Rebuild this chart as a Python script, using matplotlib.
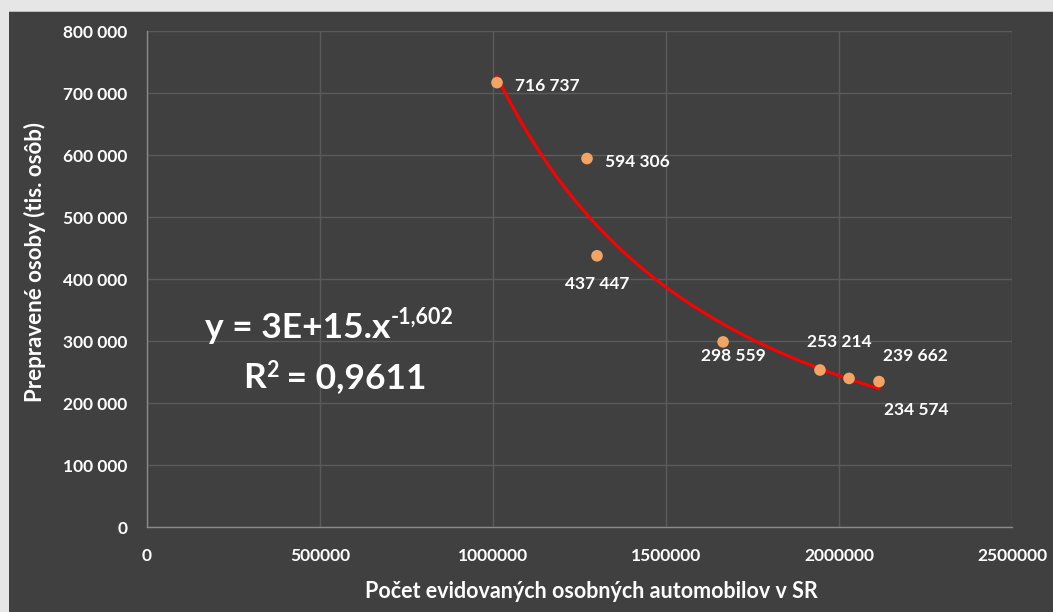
import numpy as np
import matplotlib
matplotlib.use("Agg")
import matplotlib.pyplot as plt
from matplotlib.patches import Rectangle
from matplotlib.ticker import FuncFormatter

# ---- data ----
cars = [1011600, 1271700, 1300600, 1665000, 1945000, 2029000, 2115600]
passengers = [716737, 594306, 437447, 298559, 253214, 239662, 234574]
labels = ["716 737", "594 306", "437 447", "298 559", "253 214", "239 662", "234 574"]
x_ticks = [0, 500000, 1000000, 1500000, 2000000, 2500000]
y_ticks = [0, 100000, 200000, 300000, 400000, 500000, 600000, 700000, 800000]
eq_main, eq_sup = "y = 3E+15.x", "-1,602"
r2_main, r2_sup, r2_rest = "R", "2", " = 0,9611"
xlabel = "Počet evidovaných osobných automobilov v SR"
ylabel = "Prepravené osoby (tis. osôb)"

plt.rcParams['font.family'] = ['Lato', 'DejaVu Sans']
W, H = 1053, 612
fig = plt.figure(figsize=(W / 100, H / 100), dpi=100, facecolor="#e6e6e6")
fig.patches.append(Rectangle((9 / W, 0), 1 - 9 / W, (H - 11) / H, transform=fig.transFigure,
                             facecolor="#404040", edgecolor="none", zorder=-10))
fig.patches.append(Rectangle((9 / W, (H - 12) / H), 1 - 9 / W, 1.2 / H, transform=fig.transFigure,
                             facecolor="#bdbdbd", edgecolor="none", zorder=-10))

ax = fig.add_axes([147 / W, 85 / H, (1012 - 147) / W, (527 - 31) / H])
ax.set_facecolor("#404040")
ax.set_xlim(0, 2500000)
ax.set_ylim(0, 800000)
ax.set_xticks(x_ticks)
ax.set_yticks(y_ticks)
ax.yaxis.set_major_formatter(FuncFormatter(lambda v, p: f"{int(v):,}".replace(",", " ")))
ax.xaxis.set_major_formatter(FuncFormatter(lambda v, p: f"{int(v)}"))
ax.grid(True, color="#5a5a5a", linewidth=1.0)
ax.set_axisbelow(True)
for s in ["top", "right"]:
    ax.spines[s].set_visible(False)
for s in ["left", "bottom"]:
    ax.spines[s].set_color("#8a8a8a")
    ax.spines[s].set_linewidth(1.0)
ax.tick_params(length=0, colors="white", labelsize=12.5)
ax.tick_params(axis="y", pad=14)
ax.tick_params(axis="x", pad=15)
for t in ax.get_xticklabels() + ax.get_yticklabels():
    t.set_fontweight("bold")

# power trendline (log-log regression, as Excel does)
xs = np.array(cars, dtype=float)
ys = np.array(passengers, dtype=float)
b, loga = np.polyfit(np.log(xs), np.log(ys), 1)
xx = np.linspace(xs.min(), xs.max(), 200)
ax.plot(xx, np.exp(loga) * xx ** b, color="#ff0000", linewidth=2.2, zorder=3)

ax.scatter(cars, passengers, s=70, color="#f2a465", edgecolor="none", zorder=4)

offsets = [(18, -3, "left"), (18, -3, "left"), (0, -28, "center"), (10, -14, "center"),
           (19, 28, "center"), (66, 22, "center"), (37, -28, "center")]
for x, y, lab, (dx, dy, ha) in zip(cars, passengers, labels, offsets):
    ax.annotate(lab, (x, y), xytext=(dx, dy), textcoords="offset pixels", ha=ha, va="center",
                color="white", fontsize=12.5, fontweight="bold", zorder=5)

fig.canvas.draw()
renderer = fig.canvas.get_renderer()

def place_run(x0, yc, parts):
    # parts: list of (text, size, dy_pixels)
    x = x0
    for txt, size, dy in parts:
        t = fig.text(x / W, (H - yc + dy) / H, txt, color="white", fontsize=size,
                     fontweight="bold", ha="left", va="baseline")
        bb = t.get_window_extent(renderer)
        x += bb.width

place_run(205, 338, [(eq_main, 25.5, 0), (eq_sup, 15.5, 14)])
place_run(243, 388, [(r2_main, 25.5, 0), (r2_sup, 15.5, 11), (r2_rest, 25.5, 0)])

fig.text(591 / W, (H - 592) / H, xlabel, color="white", fontsize=15.5, fontweight="bold",
         ha="center", va="center")
fig.text(35 / W, (H - 262) / H, ylabel, color="white", fontsize=16, fontweight="bold",
         ha="center", va="center", rotation=90)

fig.savefig("out.png", dpi=100, facecolor=fig.get_facecolor())
